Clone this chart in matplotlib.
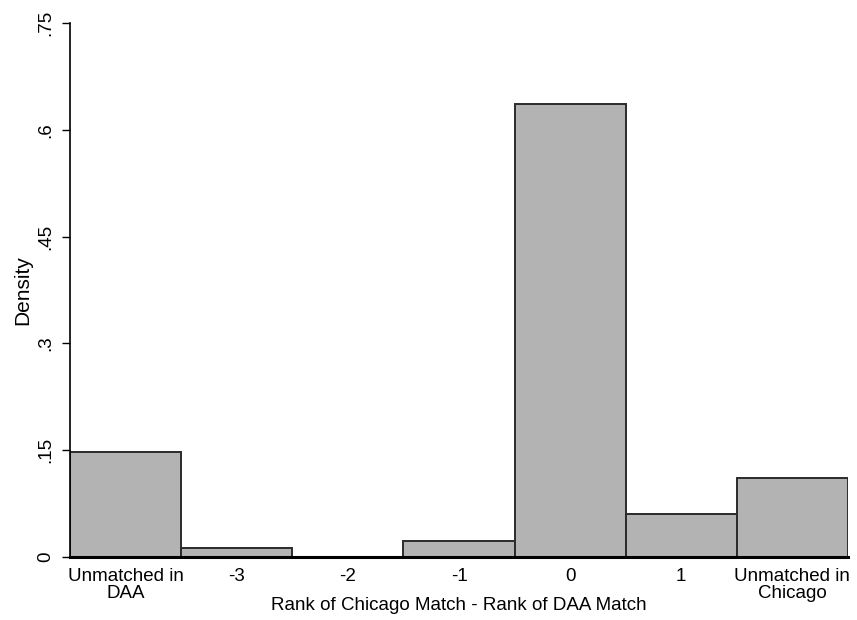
import numpy as np
import matplotlib.pyplot as plt

# Valeurs
categories = ["Unmatched in\nDAA", "-3", "-2", "-1", "0", "1", "Unmatched in\nChicago"]
density = [0.148, 0.012, 0.0, 0.022, 0.636, 0.061, 0.111]
yticks = [0, 0.15, 0.3, 0.45, 0.6, 0.75]
ytick_labels = ["0", ".15", ".3", ".45", ".6", ".75"]

plt.rcParams['font.family'] = ['Liberation Sans', 'DejaVu Sans']

fig = plt.figure(figsize=(8.57, 6.2), dpi=100)
ax = fig.add_axes([0.0817, 0.1016, 0.9078, 0.8614])

x = np.arange(len(categories))
ax.bar(x, density, width=1.0, color="#b3b3b3", edgecolor="#2b2b2b", linewidth=1.4, zorder=2)

ax.set_xlim(-0.5, len(categories) - 0.5)
ax.set_ylim(0, 0.75)

ax.set_yticks(yticks)
ax.set_yticklabels(ytick_labels, rotation=90, va="center", fontsize=13.5)
ax.set_xticks(x)
ax.set_xticklabels(categories, fontsize=13.5, linespacing=1.02)

ax.tick_params(axis="y", length=6, width=1, pad=5)
ax.tick_params(axis="x", length=0, pad=8)

for s in ["top", "right"]:
    ax.spines[s].set_visible(False)
ax.spines["left"].set_linewidth(1.2)
ax.spines["bottom"].set_linewidth(2.2)
ax.spines["bottom"].set_zorder(3)

ax.set_ylabel("Density", fontsize=15, labelpad=4)
ax.set_xlabel("Rank of Chicago Match - Rank of DAA Match", fontsize=13.5, labelpad=-4)

fig.savefig("out.png", dpi=100)
